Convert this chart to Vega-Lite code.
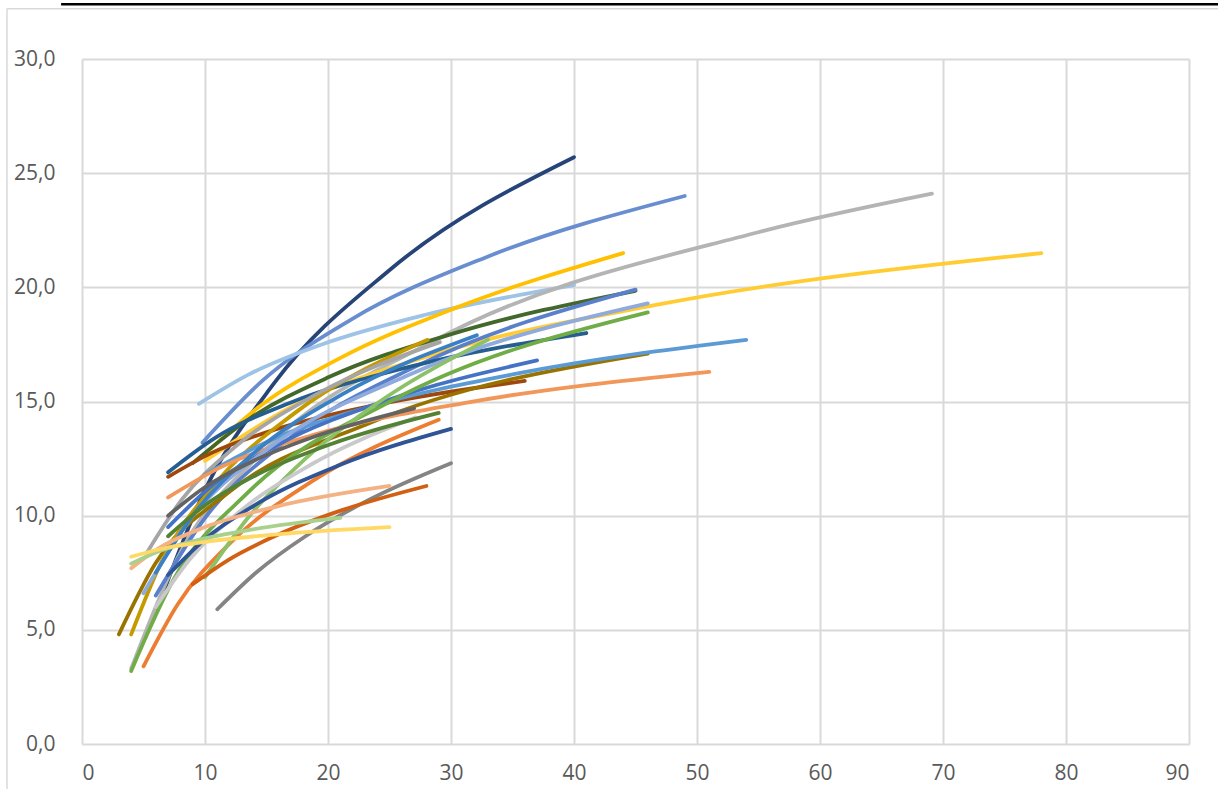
{
  "$schema": "https://vega.github.io/schema/vega-lite/v6.json",
  "width": 1107,
  "height": 685,
  "autosize": {"type": "none"},
  "padding": {"left": 82, "top": 59, "right": 29, "bottom": 45},
  "background": "white",
  "config": {
    "view": {"stroke": null},
    "axis": {
      "grid": true,
      "gridColor": "#D9D9D9",
      "gridWidth": 2,
      "domain": false,
      "ticks": false,
      "labelFont": "Open Sans",
      "labelFontSize": 21,
      "labelColor": "#595959",
      "title": null
    }
  },
  "layer": [
    {
      "data": {"values": [{}]},
      "mark": {"type": "rule", "color": "#D9D9D9", "strokeWidth": 1.5, "clip": false},
      "encoding": {
        "x": {"datum": -6.1, "type": "quantitative"},
        "y": {"datum": 32.2, "type": "quantitative"},
        "y2": {"datum": -2.5}
      }
    },
    {
      "data": {"values": [{}]},
      "mark": {"type": "rule", "color": "#D9D9D9", "strokeWidth": 1.5, "clip": false},
      "encoding": {
        "x": {"datum": -6.1, "type": "quantitative"},
        "x2": {"datum": 92.6},
        "y": {"datum": 32.2, "type": "quantitative"}
      }
    },
    {
      "data": {"values": [{}]},
      "mark": {"type": "rule", "color": "#000000", "strokeWidth": 2.5, "clip": false},
      "encoding": {
        "x": {"datum": -1.7, "type": "quantitative"},
        "x2": {"datum": 92.6},
        "y": {"datum": 32.4, "type": "quantitative"}
      }
    },
    {
      "data": {
        "values": [
          {"s": "S01", "x": 6.1, "y": 5.9}, {"s": "S01", "x": 9.76, "y": 10.85}, {"s": "S01", "x": 15.62, "y": 15.8}, {"s": "S01", "x": 24.99, "y": 20.75}, {"s": "S01", "x": 40, "y": 25.7},
          {"s": "S02", "x": 9.8, "y": 13.2}, {"s": "S02", "x": 14.65, "y": 15.9}, {"s": "S02", "x": 21.91, "y": 18.6}, {"s": "S02", "x": 32.77, "y": 21.3}, {"s": "S02", "x": 49, "y": 24.0},
          {"s": "S03", "x": 9.5, "y": 14.9}, {"s": "S03", "x": 13.61, "y": 16.2}, {"s": "S03", "x": 19.49, "y": 17.5}, {"s": "S03", "x": 27.93, "y": 18.8}, {"s": "S03", "x": 40, "y": 20.1},
          {"s": "S04", "x": 4, "y": 3.3}, {"s": "S04", "x": 7.7, "y": 8.08}, {"s": "S04", "x": 14.82, "y": 12.85}, {"s": "S04", "x": 28.53, "y": 17.63}, {"s": "S04", "x": 54.9, "y": 22.4}, {"s": "S04", "x": 69.1, "y": 24.1},
          {"s": "S05", "x": 10, "y": 12.7}, {"s": "S05", "x": 14.48, "y": 14.8}, {"s": "S05", "x": 20.98, "y": 16.9}, {"s": "S05", "x": 30.38, "y": 19.1}, {"s": "S05", "x": 44, "y": 21.5},
          {"s": "S06", "x": 10, "y": 12.4}, {"s": "S06", "x": 16.71, "y": 14.68}, {"s": "S06", "x": 27.93, "y": 16.95}, {"s": "S06", "x": 46.67, "y": 19.23}, {"s": "S06", "x": 78, "y": 21.5},
          {"s": "S07", "x": 9, "y": 12.3}, {"s": "S07", "x": 13.46, "y": 14.19}, {"s": "S07", "x": 20.12, "y": 16.08}, {"s": "S07", "x": 30.09, "y": 17.96}, {"s": "S07", "x": 45, "y": 19.85},
          {"s": "S08", "x": 6, "y": 6.5}, {"s": "S08", "x": 9.93, "y": 9.85}, {"s": "S08", "x": 16.43, "y": 13.2}, {"s": "S08", "x": 27.19, "y": 16.55}, {"s": "S08", "x": 45, "y": 19.9},
          {"s": "S09", "x": 7, "y": 11.9}, {"s": "S09", "x": 10.89, "y": 13.43}, {"s": "S09", "x": 16.94, "y": 14.95}, {"s": "S09", "x": 26.35, "y": 16.48}, {"s": "S09", "x": 41, "y": 18.0},
          {"s": "S10", "x": 7, "y": 11.7}, {"s": "S10", "x": 10.54, "y": 12.75}, {"s": "S10", "x": 15.87, "y": 13.8}, {"s": "S10", "x": 23.9, "y": 14.85}, {"s": "S10", "x": 36, "y": 15.9},
          {"s": "S11", "x": 3, "y": 4.8}, {"s": "S11", "x": 5.94, "y": 7.88}, {"s": "S11", "x": 11.75, "y": 10.95}, {"s": "S11", "x": 23.25, "y": 14.03}, {"s": "S11", "x": 46, "y": 17.1},
          {"s": "S12", "x": 4, "y": 4.8}, {"s": "S12", "x": 6.51, "y": 8.03}, {"s": "S12", "x": 10.6, "y": 11.25}, {"s": "S12", "x": 17.26, "y": 14.48}, {"s": "S12", "x": 28.1, "y": 17.7},
          {"s": "S13", "x": 5.3, "y": 8.4}, {"s": "S13", "x": 8.11, "y": 10.7}, {"s": "S13", "x": 12.42, "y": 13.0}, {"s": "S13", "x": 19.01, "y": 15.3}, {"s": "S13", "x": 29.1, "y": 17.6},
          {"s": "S14", "x": 10, "y": 11.8}, {"s": "S14", "x": 15.24, "y": 13.28}, {"s": "S14", "x": 23.24, "y": 14.75}, {"s": "S14", "x": 35.43, "y": 16.23}, {"s": "S14", "x": 54, "y": 17.7},
          {"s": "S15", "x": 7, "y": 10.8}, {"s": "S15", "x": 11.5, "y": 12.18}, {"s": "S15", "x": 18.9, "y": 13.55}, {"s": "S15", "x": 31.05, "y": 14.93}, {"s": "S15", "x": 51, "y": 16.3},
          {"s": "S16", "x": 7, "y": 9.5}, {"s": "S16", "x": 10.61, "y": 11.33}, {"s": "S16", "x": 16.09, "y": 13.15}, {"s": "S16", "x": 24.4, "y": 14.98}, {"s": "S16", "x": 37, "y": 16.8},
          {"s": "S17", "x": 5, "y": 6.6}, {"s": "S17", "x": 8.71, "y": 9.78}, {"s": "S17", "x": 15.17, "y": 12.95}, {"s": "S17", "x": 26.41, "y": 16.13}, {"s": "S17", "x": 46, "y": 19.3},
          {"s": "S18", "x": 4, "y": 3.2}, {"s": "S18", "x": 7.37, "y": 7.13}, {"s": "S18", "x": 13.56, "y": 11.05}, {"s": "S18", "x": 24.98, "y": 14.98}, {"s": "S18", "x": 46, "y": 18.9},
          {"s": "S19", "x": 5, "y": 3.4}, {"s": "S19", "x": 7.76, "y": 6.1}, {"s": "S19", "x": 12.04, "y": 8.8}, {"s": "S19", "x": 18.69, "y": 11.5}, {"s": "S19", "x": 29, "y": 14.2},
          {"s": "S20", "x": 10, "y": 7.3}, {"s": "S20", "x": 13.48, "y": 9.9}, {"s": "S20", "x": 18.17, "y": 12.5}, {"s": "S20", "x": 24.48, "y": 15.1}, {"s": "S20", "x": 33, "y": 17.7},
          {"s": "S21", "x": 6, "y": 7.5}, {"s": "S21", "x": 9.13, "y": 10.1}, {"s": "S21", "x": 13.88, "y": 12.7}, {"s": "S21", "x": 21.11, "y": 15.3}, {"s": "S21", "x": 32.1, "y": 17.9},
          {"s": "S22", "x": 6, "y": 6.0}, {"s": "S22", "x": 8.75, "y": 8.08}, {"s": "S22", "x": 12.75, "y": 10.15}, {"s": "S22", "x": 18.59, "y": 12.23}, {"s": "S22", "x": 27.1, "y": 14.3},
          {"s": "S23", "x": 7, "y": 9.1}, {"s": "S23", "x": 9.99, "y": 10.45}, {"s": "S23", "x": 14.25, "y": 11.8}, {"s": "S23", "x": 20.33, "y": 13.15}, {"s": "S23", "x": 29, "y": 14.5},
          {"s": "S24", "x": 7, "y": 7.4}, {"s": "S24", "x": 10.07, "y": 9.0}, {"s": "S24", "x": 14.49, "y": 10.6}, {"s": "S24", "x": 20.85, "y": 12.2}, {"s": "S24", "x": 30, "y": 13.8},
          {"s": "S25", "x": 11, "y": 5.9}, {"s": "S25", "x": 14.14, "y": 7.5}, {"s": "S25", "x": 18.17, "y": 9.1}, {"s": "S25", "x": 23.35, "y": 10.7}, {"s": "S25", "x": 30, "y": 12.3},
          {"s": "S26", "x": 9, "y": 7.0}, {"s": "S26", "x": 11.95, "y": 8.08}, {"s": "S26", "x": 15.87, "y": 9.15}, {"s": "S26", "x": 21.08, "y": 10.23}, {"s": "S26", "x": 28, "y": 11.3},
          {"s": "S27", "x": 4, "y": 7.7}, {"s": "S27", "x": 6.32, "y": 8.6}, {"s": "S27", "x": 10, "y": 9.5}, {"s": "S27", "x": 15.81, "y": 10.4}, {"s": "S27", "x": 25, "y": 11.3},
          {"s": "S28", "x": 4, "y": 7.9}, {"s": "S28", "x": 6.05, "y": 8.4}, {"s": "S28", "x": 9.17, "y": 8.9}, {"s": "S28", "x": 13.88, "y": 9.4}, {"s": "S28", "x": 21, "y": 9.9},
          {"s": "S29", "x": 4, "y": 8.2}, {"s": "S29", "x": 6.32, "y": 8.53}, {"s": "S29", "x": 10, "y": 8.85}, {"s": "S29", "x": 15.81, "y": 9.18}, {"s": "S29", "x": 25, "y": 9.5},
          {"s": "S30", "x": 7, "y": 10.0}, {"s": "S30", "x": 9.81, "y": 11.18}, {"s": "S30", "x": 13.75, "y": 12.35}, {"s": "S30", "x": 19.27, "y": 13.53}, {"s": "S30", "x": 27, "y": 14.7}
        ]
      },
      "mark": {"type": "line", "interpolate": "monotone", "strokeWidth": 3.8, "strokeCap": "round"},
      "encoding": {
        "x": {
          "field": "x",
          "type": "quantitative",
          "scale": {"domain": [0, 90], "nice": false, "zero": false},
          "axis": {"values": [0, 10, 20, 30, 40, 50, 60, 70, 80, 90], "labelPadding": 18}
        },
        "y": {
          "field": "y",
          "type": "quantitative",
          "scale": {"domain": [0, 30], "nice": false},
          "axis": {
            "values": [0, 5, 10, 15, 20, 25, 30],
            "labelExpr": "replace(format(datum.value, '.1f'), '.', ',')",
            "labelPadding": 27
          }
        },
        "color": {
          "field": "s",
          "type": "nominal",
          "legend": null,
          "scale": {
            "domain": ["S01", "S02", "S03", "S04", "S05", "S06", "S07", "S08", "S09", "S10", "S11", "S12", "S13", "S14", "S15", "S16", "S17", "S18", "S19", "S20", "S21", "S22", "S23", "S24", "S25", "S26", "S27", "S28", "S29", "S30"],
            "range": ["#264478", "#698ED0", "#9DC3E6", "#B4B4B4", "#FFC000", "#FFCD33", "#43682B", "#5A80CC", "#255E91", "#9E480E", "#997300", "#C49A00", "#A5A5A5", "#5B9BD5", "#F1975A", "#4472C4", "#8FAADC", "#70AD47", "#ED7D31", "#8CC168", "#3A80C4", "#C9C9C9", "#548235", "#2F5597", "#848484", "#D26012", "#F4B183", "#A9D18E", "#FFD966", "#636363"]
          }
        }
      }
    }
  ]
}
